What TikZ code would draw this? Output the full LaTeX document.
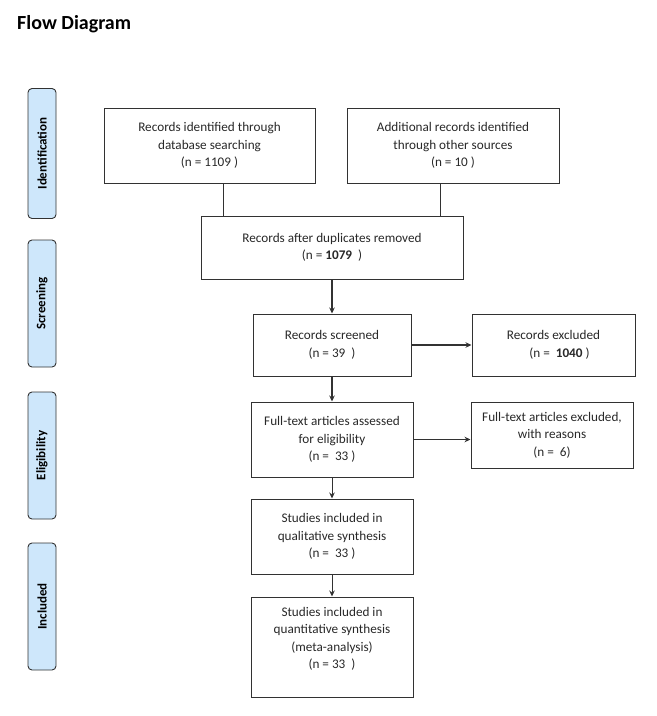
\documentclass[tikz,border=0pt]{standalone}
\usepackage{fontspec}
\setmainfont{Carlito}
\usetikzlibrary{arrows.meta}
\definecolor{stageblue}{RGB}{206,231,251}
\definecolor{linegray}{RGB}{50,50,50}
\definecolor{txtgray}{RGB}{40,40,40}
\begin{document}
\begin{tikzpicture}[x=1pt,y=-1pt,
  box/.style={draw=linegray, line width=1pt, rectangle, inner sep=0pt, align=center,
    text=txtgray, font=\fontsize{13.2}{17.5}\selectfont},
  txt/.style={inner sep=0pt, align=center, text=txtgray, font=\fontsize{13.2}{17.5}\selectfont},
  stage/.style={draw=linegray, line width=0.9pt, fill=stageblue, rounded corners=4pt,
    minimum height=28pt, inner sep=0pt, rotate=90, text=black, font=\fontsize{13}{14}\selectfont\bfseries},
  conn/.style={draw=linegray, line width=1pt},
  heavy/.style={line width=1.4pt},
  arr/.style={conn, -{Stealth[length=6pt,width=5.5pt]}}
]
\useasboundingbox (0,0) rectangle (657,716);

\node[anchor=west, inner sep=0pt, font=\fontsize{20}{22}\selectfont\bfseries] (title) at (17,24) {Flow Diagram};

% stage labels
\node[stage, minimum width=130pt] (sid) at (42,153.5) {Identification};
\node[stage, minimum width=127pt] (ssc) at (42,303.5) {Screening};
\node[stage, minimum width=127pt] (sel) at (42,455.5) {Eligibility};
\node[stage, minimum width=127pt] (sin) at (42,606.5) {Included};

% boxes
\node[box, minimum width=211pt, minimum height=75pt] (db) at (209.5,145.5)
  {Records identified through\\database searching\\(n = 1109 )};
\node[box, minimum width=212pt, minimum height=75pt] (oth) at (453,145.5)
  {Additional records identified\\through other sources\\(n = 10 )};
\node[box, minimum width=262pt, minimum height=63pt] (dup) at (332,247.5)
  {Records after duplicates removed\\(n = \textbf{1079}~~)};
\node[box, minimum width=158pt, minimum height=62pt] (scr) at (332,345)
  {Records screened\\(n = 39~~)};
\node[box, minimum width=163pt, minimum height=62pt] (exc) at (553.5,345)
  {Records excluded\\\hspace*{12pt}(n = ~\textbf{1040} )};
\node[box, minimum width=162pt, minimum height=75pt] (ft) at (332,439.5)
  {Full-text articles assessed\\for eligibility\\(n = ~33 )};
\node[box, minimum width=162pt, minimum height=66pt] (fte) at (552,435)
  {Full-text articles excluded,\\with reasons\\(n = ~6)};
\node[box, minimum width=162pt, minimum height=75pt] (ql) at (332,536.5)
  {Studies included in\\qualitative synthesis\\(n = ~33 )};
\node[box, minimum width=162pt, minimum height=100pt] (qn) at (332,647) {};
\node[txt] (qntxt) at ([yshift=8pt]qn.center)
  {Studies included in\\quantitative synthesis\\(meta-analysis)\\(n = 33~~)};

% connectors
\draw[conn] (db.south -| 223,0) -- (dup.north -| 223,0);
\draw[conn] (oth.south -| 440,0) -- (dup.north -| 440,0);
\draw[arr, heavy] (dup.south) -- (scr.north);
\draw[arr, heavy] (scr.east) -- (exc.west);
\draw[arr, heavy] (scr.south) -- (ft.north);
\draw[arr, line width=0.8pt] (ft.east) -- (fte.west |- ft.east);
\draw[arr] (ft.south) -- (ql.north);
\draw[arr] (ql.south) -- (qn.north);
\end{tikzpicture}
\end{document}
